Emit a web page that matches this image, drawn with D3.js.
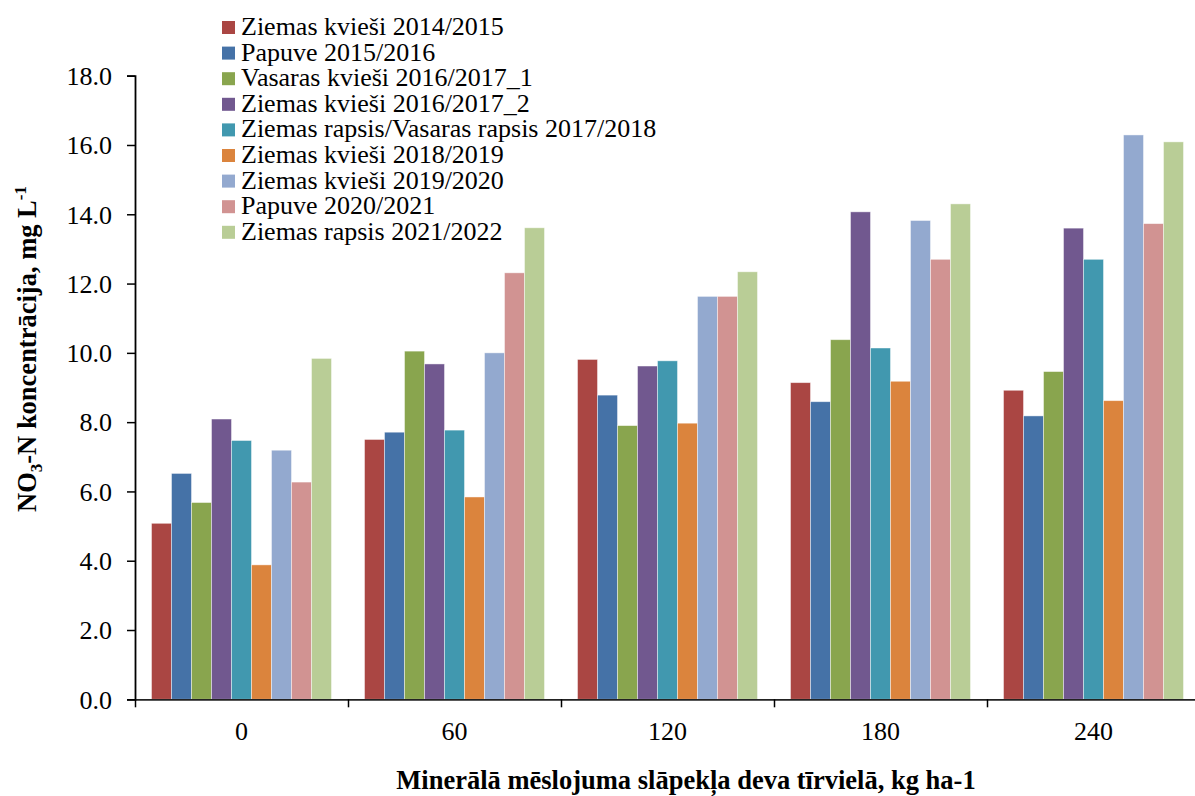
<!DOCTYPE html>
<html>
<head>
<meta charset="utf-8">
<script src="https://cdnjs.cloudflare.com/ajax/libs/d3/7.8.5/d3.min.js"></script>
<style>
  html, body { margin: 0; padding: 0; background: #fff; }
  svg { display: block; }
</style>
</head>
<body>
<svg id="chart" width="1195" height="796"></svg>
<script>
const categories = ["0", "60", "120", "180", "240"];
const seriesNames = [
  "Ziemas kvieši 2014/2015",
  "Papuve 2015/2016",
  "Vasaras kvieši 2016/2017_1",
  "Ziemas kvieši 2016/2017_2",
  "Ziemas rapsis/Vasaras rapsis 2017/2018",
  "Ziemas kvieši 2018/2019",
  "Ziemas kvieši 2019/2020",
  "Papuve 2020/2021",
  "Ziemas rapsis 2021/2022"
];
const seriesColors = ["#AA4643", "#4572A7", "#89A54E", "#71588F", "#4198AF", "#DB843D", "#93A9CF", "#D19392", "#B9CD96"];
// values per series, in category order 0, 60, 120, 180, 240
const s1 = [5.08, 7.50, 9.81, 9.14, 8.92];
const s2 = [6.52, 7.71, 8.78, 8.59, 8.18];
const s3 = [5.68, 10.05, 7.90, 10.38, 9.46];
const s4 = [8.09, 9.68, 9.62, 14.07, 13.60];
const s5 = [7.47, 7.77, 9.77, 10.14, 12.70];
const s6 = [3.88, 5.84, 7.97, 9.18, 8.62];
const s7 = [7.19, 10.00, 11.63, 13.82, 16.29];
const s8 = [6.27, 12.31, 11.63, 12.70, 13.73];
const s9 = [9.84, 13.61, 12.34, 14.30, 16.09];
const seriesValues = [s1, s2, s3, s4, s5, s6, s7, s8, s9];
const yTicks = [0, 2, 4, 6, 8, 10, 12, 14, 16, 18];

(function () {
const FONT = '"Liberation Serif", "Times New Roman", Times, serif';
const svg = d3.select("#chart").attr("font-family", FONT);
const mLeft = 135, mRight = 1200, mTop = 75.7, mBottom = 699.3;

const x0 = d3.scaleBand().domain(categories).range([mLeft, mRight])
  .paddingInner(0.155).paddingOuter(0.0775);
const x1 = d3.scaleBand().domain(d3.range(seriesNames.length)).range([0, x0.bandwidth()]);
const y = d3.scaleLinear().domain([0, 18]).range([mBottom, mTop]);

// bars
const groups = svg.append("g").selectAll("g")
  .data(categories).join("g")
  .attr("transform", d => `translate(${x0(d)},0)`);
groups.selectAll("rect")
  .data((c, ci) => seriesValues.map((vals, si) => ({ si, v: vals[ci] })))
  .join("rect")
  .attr("x", d => x1(d.si))
  .attr("y", d => y(d.v))
  .attr("width", x1.bandwidth())
  .attr("height", d => y(0) - y(d.v))
  .attr("fill", d => seriesColors[d.si])
  .attr("stroke", "rgba(255,255,255,0.55)")
  .attr("stroke-width", 0.8);

// y axis
const yAxis = d3.axisLeft(y).tickValues(yTicks).tickFormat(d3.format(".1f")).tickSizeOuter(0).tickSize(8).tickPadding(15);
const gy = svg.append("g").attr("transform", `translate(${mLeft},0)`).call(yAxis)
  .attr("font-family", FONT).attr("font-size", 26);
gy.select(".domain").attr("stroke", "#000").attr("stroke-width", 1.8);
gy.selectAll(".tick line").attr("stroke", "#000").attr("stroke-width", 1.5);
gy.selectAll(".tick text").attr("font-size", 26).attr("fill", "#000")
  .attr("font-family", FONT).attr("dy", "0.34em");

// x axis: category boundary ticks
const xBounds = d3.scaleLinear().domain([0, categories.length]).range([mLeft, mRight]);
const xAxis = d3.axisBottom(xBounds).tickValues(d3.range(categories.length + 1)).tickFormat("").tickSize(8).tickSizeOuter(0);
const gx = svg.append("g").attr("transform", `translate(0,${mBottom})`).call(xAxis);
gx.select(".domain").attr("stroke", "#222").attr("stroke-width", 1.8);
gx.selectAll(".tick line").attr("stroke", "#000").attr("stroke-width", 1.5);

// x category labels
svg.append("g").selectAll("text").data(categories).join("text")
  .attr("x", d => x0(d) + x0.bandwidth() / 2)
  .attr("y", 740)
  .attr("text-anchor", "middle")
  .attr("font-family", FONT)
  .attr("font-size", 26)
  .attr("fill", "#000")
  .text(d => d);

// x title
svg.append("text")
  .attr("x", 686).attr("y", 789)
  .attr("text-anchor", "middle")
  .attr("font-family", FONT)
  .attr("font-size", 26.5).attr("font-weight", "bold")
  .text("Minerālā mēslojuma slāpekļa deva tīrvielā, kg ha-1");

// y title
const yt = svg.append("text")
  .attr("transform", "translate(36,349) rotate(-90)")
  .attr("text-anchor", "middle")
  .attr("font-family", FONT)
  .attr("font-size", 26.5).attr("font-weight", "bold");
yt.append("tspan").text("NO");
yt.append("tspan").attr("font-size", 17).attr("dy", 6).text("3");
yt.append("tspan").attr("dy", -6).text("-N koncentrācija, mg L");
yt.append("tspan").attr("font-size", 17).attr("dy", -10).text("-1");

// legend
const legend = svg.append("g").selectAll("g").data(seriesNames).join("g")
  .attr("transform", (d, i) => `translate(222,${35 + i * 25.6})`);
legend.append("rect")
  .attr("x", 0).attr("y", -14).attr("width", 13).attr("height", 13)
  .attr("fill", (d, i) => seriesColors[i]);
legend.append("text")
  .attr("x", 19).attr("y", 0)
  .attr("font-family", FONT)
  .attr("font-size", 26).attr("fill", "#000")
  .text(d => d);
})();
</script>
</body>
</html>
